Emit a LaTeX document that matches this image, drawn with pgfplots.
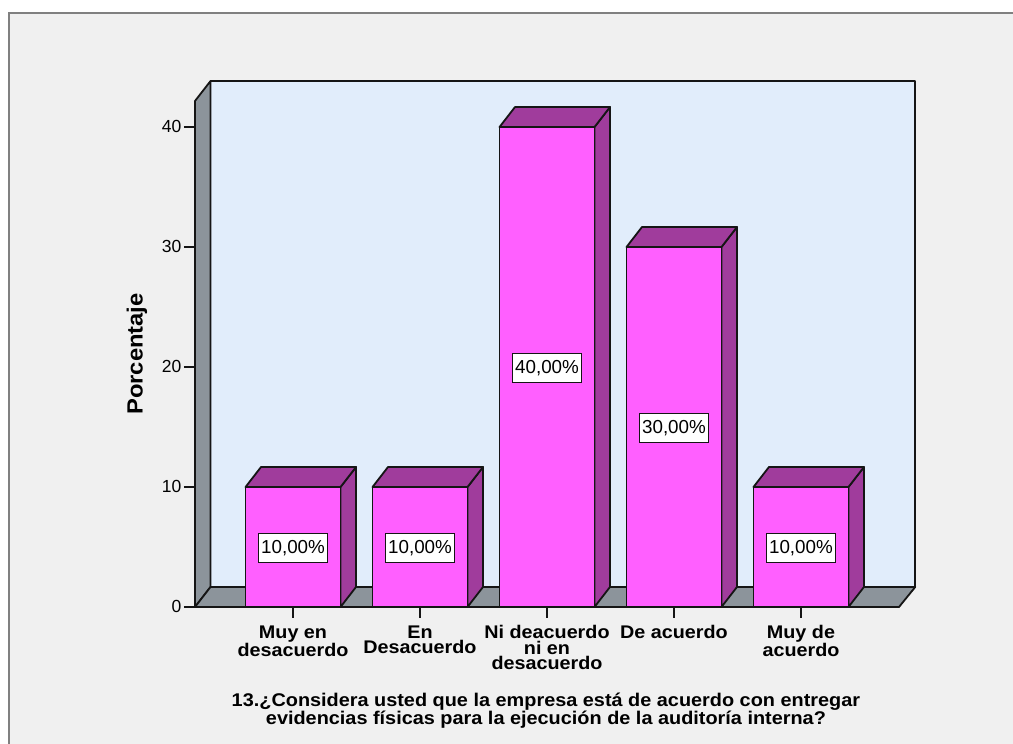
\documentclass[border=0pt]{standalone}
\usepackage{fontspec}
\setmainfont{Liberation Sans}
\newfontfamily\widebold[FakeStretch=1.08]{Liberation Sans}
\usepackage{pgfplots}
\pgfplotsset{compat=1.18}
\definecolor{pagebg}{HTML}{F0F0F0}
\definecolor{framegray}{HTML}{808080}
\definecolor{backwall}{HTML}{E1EDFB}
\definecolor{wallgray}{HTML}{8C949B}
\definecolor{barfront}{HTML}{FF5FFF}
\definecolor{barshade}{HTML}{A03C9C}
\definecolor{edge}{HTML}{151515}
\tikzset{barpen/.style={draw=edge,line width=1.8pt,line join=round}}
\begin{document}
\begin{tikzpicture}[x=1pt,y=1pt]
\useasboundingbox (0,0) rectangle (1013,744);
\fill[white] (0,0) rectangle (1013,744);
\fill[pagebg] (9,0) rectangle (1013,731);
\draw[framegray,line width=2pt] (9,0) -- (9,731) -- (1013,731);
\begin{axis}[
  at={(195pt,137pt)},anchor=south west,
  scale only axis,width=704pt,height=506pt,
  xmin=-0.772,xmax=4.772,ymin=0,ymax=42.17,
  clip=false,
  axis x line*=bottom,axis y line*=left,
  axis line style={draw=edge,line width=1.8pt,-},
  xtick={0,1,2,3,4},
  xticklabels={{Muy en\\desacuerdo},{En\\Desacuerdo},{Ni deacuerdo\\ni en\\desacuerdo},{De acuerdo},{Muy de\\acuerdo}},
  ytick={0,10,20,30,40},
  /pgf/number format/assume math mode=true,
  major tick length=11pt,
  tick align=outside,
  tick style={draw=edge,line width=1.5pt},
  xticklabel style={font=\widebold\fontsize{18.3}{15.5}\selectfont\bfseries,align=center,yshift=-4pt,text=black,anchor=north},
  yticklabel style={font=\fontsize{17.5}{18}\selectfont,text=black,xshift=1pt,yshift=0.5pt},
  ylabel={Porcentaje},
  ylabel style={font=\widebold\fontsize{22}{22}\selectfont\bfseries,at={(axis description cs:-0.063,0.5)},anchor=south},
  xlabel={13.¿Considera usted que la empresa está de acuerdo con entregar\\evidencias físicas para la ejecución de la auditoría interna?},
  xlabel style={font=\widebold\fontsize{18.4}{15.5}\selectfont\bfseries,align=center,at={(axis description cs:0.4985,-0.163)},anchor=north},
]
% walls and floor of the box
\addplot[fill=backwall,barpen] coordinates {(-0.65,1.667) (-0.65,43.83) (4.9,43.83) (4.9,1.667)} -- cycle;
\addplot[fill=wallgray,barpen] coordinates {(-0.772,0) (-0.772,42.17) (-0.65,43.83) (-0.65,1.667)} -- cycle;
\addplot[fill=wallgray,barpen] coordinates {(-0.772,0) (-0.65,1.667) (4.9,1.667) (4.772,0)} -- cycle;

% bar 1: 10
\addplot[fill=barshade,barpen] coordinates {(0.374,0) (0.496,1.667) (0.496,11.667) (0.374,10)} -- cycle;
\addplot[fill=barshade,barpen] coordinates {(-0.374,10) (-0.252,11.667) (0.496,11.667) (0.374,10)} -- cycle;
\addplot[fill=barfront,barpen] coordinates {(-0.374,0) (-0.374,10) (0.374,10) (0.374,0)} -- cycle;
% bar 2: 10
\addplot[fill=barshade,barpen] coordinates {(1.374,0) (1.496,1.667) (1.496,11.667) (1.374,10)} -- cycle;
\addplot[fill=barshade,barpen] coordinates {(0.626,10) (0.748,11.667) (1.496,11.667) (1.374,10)} -- cycle;
\addplot[fill=barfront,barpen] coordinates {(0.626,0) (0.626,10) (1.374,10) (1.374,0)} -- cycle;
% bar 3: 40
\addplot[fill=barshade,barpen] coordinates {(2.374,0) (2.496,1.667) (2.496,41.667) (2.374,40)} -- cycle;
\addplot[fill=barshade,barpen] coordinates {(1.626,40) (1.748,41.667) (2.496,41.667) (2.374,40)} -- cycle;
\addplot[fill=barfront,barpen] coordinates {(1.626,0) (1.626,40) (2.374,40) (2.374,0)} -- cycle;
% bar 4: 30
\addplot[fill=barshade,barpen] coordinates {(3.374,0) (3.496,1.667) (3.496,31.667) (3.374,30)} -- cycle;
\addplot[fill=barshade,barpen] coordinates {(2.626,30) (2.748,31.667) (3.496,31.667) (3.374,30)} -- cycle;
\addplot[fill=barfront,barpen] coordinates {(2.626,0) (2.626,30) (3.374,30) (3.374,0)} -- cycle;
% bar 5: 10
\addplot[fill=barshade,barpen] coordinates {(4.374,0) (4.496,1.667) (4.496,11.667) (4.374,10)} -- cycle;
\addplot[fill=barshade,barpen] coordinates {(3.626,10) (3.748,11.667) (4.496,11.667) (4.374,10)} -- cycle;
\addplot[fill=barfront,barpen] coordinates {(3.626,0) (3.626,10) (4.374,10) (4.374,0)} -- cycle;

% value boxes at mid-height of each bar
\addplot[draw=none,mark=none,point meta=explicit symbolic,
  nodes near coords,
  nodes near coords style={anchor=center,fill=white,draw=edge,line width=1.3pt,
    font=\fontsize{18.8}{18}\selectfont,text=black,inner sep=0pt,yshift=-1pt,
    minimum width=69pt,minimum height=29pt}]
  coordinates {(0,5)[10,00\%] (1,5)[10,00\%] (2,20)[40,00\%] (3,15)[30,00\%] (4,5)[10,00\%]};
\end{axis}
\end{tikzpicture}
\end{document}
